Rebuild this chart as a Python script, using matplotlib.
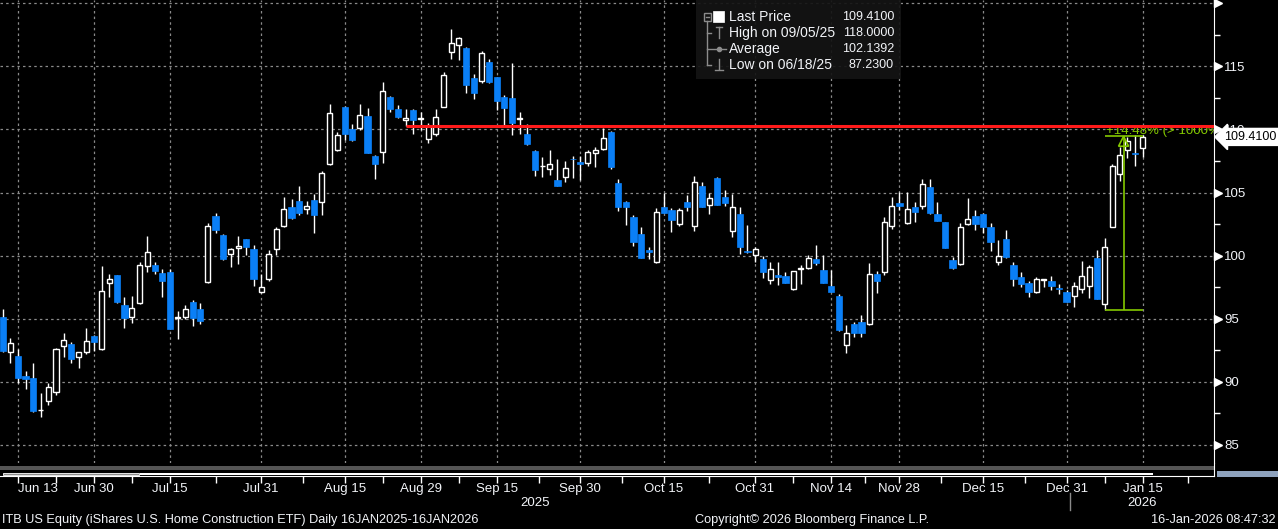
import numpy as np
import pandas as pd
import matplotlib
matplotlib.use("Agg")
import matplotlib.pyplot as plt
from matplotlib import transforms
from matplotlib.lines import Line2D
from matplotlib.patches import Rectangle, Polygon

plt.rcParams['font.family'] = ['Liberation Sans', 'DejaVu Sans']

# ---- data (ITB daily, visible window) ----
start_date = "2025-06-11"
end_date = "2026-01-15"
market_holidays = ["2025-06-19", "2025-07-04", "2025-09-01",
                   "2025-11-27", "2025-12-25", "2026-01-01"]

opens = [95.13, 92.33, 92.04, 90.45, 90.29, 87.75, 88.52, 89.21, 92.86, 92.99,
         91.98, 92.33, 93.62, 92.62, 97.86, 98.44, 96.08, 95.16, 96.22, 99.21,
         99.23, 98.60, 98.68, 95.08, 95.11, 96.30, 95.74, 97.94, 103.12, 101.61,
         100.11, 100.58, 101.32, 100.50, 97.09, 98.12, 100.50, 102.38, 103.84, 104.31,
         103.68, 104.39, 104.23, 107.25, 108.41, 111.80, 110.03, 110.08, 111.08, 107.91,
         108.25, 112.59, 111.64, 110.74, 111.56, 110.82, 109.23, 109.68, 111.77, 116.14,
         116.69, 116.46, 114.07, 113.84, 115.34, 114.15, 112.57, 112.49, 110.83, 109.66,
         108.31, 107.08, 106.85, 106.01, 106.22, 107.67, 107.41, 107.33, 108.17, 108.44,
         109.81, 105.77, 104.26, 103.07, 101.72, 100.45, 99.52, 103.84, 103.62, 102.51,
         104.26, 102.38, 105.53, 104.02, 106.16, 104.66, 101.96, 103.31, 100.34, 100.05,
         99.74, 98.07, 98.44, 98.39, 97.33, 98.96, 98.99, 99.74, 98.86, 97.59,
         96.80, 92.91, 94.58, 94.74, 94.55, 98.52, 98.73, 102.38, 104.18, 102.57,
         103.84, 103.92, 105.42, 103.28, 102.65, 99.63, 99.37, 102.49, 103.15, 103.31,
         102.25, 99.52, 101.32, 99.26, 98.28, 97.80, 97.09, 98.10, 97.99, 97.43,
         97.12, 96.77, 97.33, 97.59, 99.81, 96.14, 102.30, 106.48, 108.39, 108.12,
         108.52]
highs = [95.77, 93.44, 92.59, 90.85, 91.48, 89.15, 89.87, 92.70, 93.89, 93.15,
         92.38, 94.26, 93.68, 99.18, 98.54, 98.48, 96.72, 96.80, 99.50, 101.56,
         99.50, 98.97, 98.97, 95.61, 96.08, 96.48, 96.22, 102.59, 103.39, 101.69,
         100.61, 101.56, 101.35, 100.85, 98.54, 100.42, 102.28, 104.66, 104.50, 105.53,
         104.34, 104.89, 106.72, 112.01, 109.79, 111.85, 110.45, 112.04, 111.72, 107.95,
         113.78, 112.67, 111.96, 111.64, 111.60, 111.35, 110.50, 111.64, 114.58, 118.00,
         117.30, 116.53, 114.39, 116.19, 115.58, 114.18, 112.75, 115.26, 111.38, 110.45,
         108.35, 107.80, 108.39, 107.67, 107.51, 107.91, 107.86, 108.36, 108.65, 110.11,
         109.85, 106.08, 104.30, 103.23, 102.28, 100.71, 103.76, 104.95, 103.76, 103.76,
         104.81, 106.32, 105.87, 105.00, 106.20, 105.21, 104.87, 103.89, 102.43, 100.71,
         100.00, 99.50, 99.50, 98.70, 98.80, 99.23, 100.05, 100.82, 100.03, 98.86,
         96.93, 94.50, 94.74, 95.32, 99.39, 98.78, 103.04, 104.68, 105.08, 105.08,
         104.29, 106.08, 106.06, 104.29, 102.68, 99.92, 102.57, 104.55, 103.62, 103.41,
         102.57, 101.24, 102.04, 99.52, 98.73, 98.02, 98.28, 98.15, 98.39, 97.75,
         97.28, 97.94, 99.58, 99.26, 100.45, 101.38, 107.25, 108.65, 109.44, 109.58,
         109.58]
lows = [92.38, 91.46, 89.87, 89.47, 87.62, 87.23, 88.15, 88.94, 91.98, 91.48,
        91.11, 92.20, 92.43, 92.55, 96.75, 96.27, 94.29, 94.68, 96.20, 98.73,
        98.54, 96.75, 94.18, 93.41, 94.95, 94.44, 94.58, 97.86, 101.77, 99.66,
        99.13, 99.34, 100.05, 97.59, 97.05, 98.02, 100.05, 102.25, 102.91, 103.23,
        103.33, 101.83, 103.23, 107.20, 108.30, 109.18, 109.10, 109.97, 108.15, 106.11,
        107.38, 111.35, 110.87, 110.29, 109.68, 109.97, 108.89, 109.50, 111.75, 115.56,
        115.48, 112.86, 112.41, 113.68, 113.65, 111.51, 110.37, 109.60, 109.68, 108.73,
        106.35, 106.27, 106.43, 105.54, 105.87, 106.19, 106.00, 107.14, 107.06, 108.40,
        106.90, 103.57, 102.43, 100.77, 99.80, 99.76, 99.39, 103.36, 101.90, 102.35,
        103.57, 101.98, 103.85, 103.33, 104.02, 103.97, 101.51, 100.13, 100.20, 99.52,
        98.23, 97.75, 97.65, 97.82, 97.30, 97.75, 98.92, 99.26, 97.82, 97.10,
        94.02, 92.30, 93.52, 93.52, 94.50, 97.06, 98.47, 102.09, 103.62, 102.50,
        102.70, 103.68, 103.31, 102.75, 100.58, 98.97, 99.29, 102.43, 102.04, 101.77,
        100.40, 99.26, 99.85, 97.62, 97.49, 96.75, 97.05, 97.49, 97.28, 96.96,
        96.30, 95.95, 97.06, 96.61, 96.55, 95.69, 102.25, 105.93, 107.72, 107.14,
        107.80]
closes = [92.46, 93.04, 90.32, 90.24, 87.70, 87.80, 89.63, 92.59, 93.28, 91.83,
          92.35, 93.23, 93.17, 97.17, 98.12, 96.32, 95.08, 95.82, 99.23, 100.26,
          98.81, 98.02, 94.21, 95.10, 95.74, 95.08, 94.84, 102.33, 102.06, 99.76,
          100.50, 100.74, 100.71, 98.17, 97.49, 100.11, 102.09, 103.68, 103.02, 103.36,
          103.92, 103.25, 106.53, 111.30, 109.58, 109.68, 109.13, 111.14, 108.17, 107.30,
          113.07, 111.59, 110.95, 110.93, 110.79, 110.85, 110.24, 110.98, 114.31, 116.85,
          117.25, 113.52, 112.86, 116.06, 113.76, 112.22, 111.67, 110.48, 110.86, 108.86,
          106.75, 107.10, 107.25, 105.56, 106.98, 107.63, 107.30, 108.20, 108.39, 109.31,
          107.06, 103.84, 103.84, 101.11, 99.84, 100.26, 103.44, 103.41, 102.83, 103.60,
          103.89, 105.82, 103.89, 104.55, 104.05, 104.21, 103.84, 100.71, 100.26, 100.53,
          98.73, 98.92, 98.33, 97.86, 98.76, 98.99, 99.79, 99.39, 97.86, 97.12,
          94.10, 93.84, 93.84, 93.84, 98.52, 98.02, 102.65, 103.97, 103.97, 103.68,
          103.49, 105.66, 103.41, 102.78, 100.63, 99.05, 102.25, 102.88, 102.51, 102.30,
          101.11, 99.97, 99.87, 98.15, 97.75, 97.12, 98.12, 98.13, 97.62, 97.33,
          96.35, 97.59, 98.39, 99.13, 96.59, 100.71, 107.12, 107.96, 109.05, 108.04,
          109.41]

tick_dates = ["2025-06-13", "2025-06-30", "2025-07-15", "2025-07-31", "2025-08-15",
              "2025-08-29", "2025-09-15", "2025-09-30", "2025-10-15", "2025-10-31",
              "2025-11-14", "2025-11-28", "2025-12-15", "2025-12-31", "2026-01-15"]
tick_labels = ["Jun 13", "Jun 30", "Jul 15", "Jul 31", "Aug 15", "Aug 29", "Sep 15",
               "Sep 30", "Oct 15", "Oct 31", "Nov 14", "Nov 28", "Dec 15", "Dec 31", "Jan 15"]
y_ticks = [85, 90, 95, 100, 105, 110, 115, 120]
y_labels = ["85", "90", "95", "100", "105", "110", "115", ""]

last_price = 109.41
stat_names = ["Last Price", "High on 09/05/25", "Average", "Low on 06/18/25"]
stat_values = ["109.4100", "118.0000", "102.1392", "87.2300"]

resistance_level = 110.25
resistance_from = "2025-08-27"

move_from, move_to = "2026-01-08", "2026-01-15"
move_low, move_high = 95.69, 109.46
move_text = "+14.48% (> 1000%)"

# ---- styling ----
BLUE = '#0a7ff6'
GREEN = '#84c800'
RED = '#ff1a1a'
GRID = '#8a8a8a'
ICON = '#8c8c8c'
TXT = '#f2f4f8'

W, H = 1278, 529
def fx(px):
    return px / W
def fy(py):
    return 1 - py / H

dates = pd.bdate_range(start_date, end_date, freq='C', holidays=market_holidays)
def idx(d):
    return dates.get_loc(pd.Timestamp(d))

fig = plt.figure(figsize=(W / 100, H / 100), dpi=100, facecolor='black')
ax = fig.add_axes([0, fy(463), fx(1214), fy(0) - fy(463)], facecolor='black')
ax2 = fig.add_axes([0, fy(476), fx(1214), fy(463) - fy(476)], facecolor='black', sharex=ax)

x = np.arange(len(dates))
o, h, l, c = (np.array(v) for v in (opens, highs, lows, closes))
up = c >= o
body = np.maximum(np.abs(c - o), 0.05)
bottom = np.minimum(o, c)

ax.vlines(x, l, h, color='white', lw=1, zorder=2)
ax.bar(x[up], body[up], bottom=bottom[up], width=0.66, facecolor='black',
       edgecolor='white', lw=1, zorder=3)
ax.bar(x[~up], body[~up], bottom=bottom[~up], width=0.82, facecolor=BLUE,
       edgecolor=BLUE, lw=0.5, zorder=3)

ax.set_xlim(-0.37, 159.4)
ax.set_ylim(83.57, 120.26)

# y axis on the right, Bloomberg style
ax.yaxis.tick_right()
ax.set_yticks(y_ticks)
ax.set_yticklabels(y_labels)
ax.set_yticks(np.arange(87.5, 120, 5), minor=True)
ax.tick_params(axis='y', which='major', length=0, pad=7.5, labelcolor=TXT, labelsize=9.5)
ax.tick_params(axis='y', which='minor', length=4, width=1, color='white', direction='out')
ax.tick_params(axis='x', which='both', length=0, labelbottom=False)
for side in ['top', 'left', 'bottom']:
    ax.spines[side].set_visible(False)
ax.spines['right'].set_color('white')
ax.grid(True, which='major', color=GRID, ls=(0, (2, 2.5)), lw=0.9)
ax.set_axisbelow(True)

tri_tr = transforms.offset_copy(
    transforms.blended_transform_factory(ax.transAxes, ax.transData),
    fig=fig, x=4, y=0, units='dots')
ax.plot(np.ones(len(y_ticks)), y_ticks, ls='none', marker='>', ms=6, color='white',
        transform=tri_tr, clip_on=False, zorder=5)

# x axis in the navigator strip
tick_pos = [idx(d) for d in tick_dates]
ax2.set_xticks(tick_pos)
ax2.set_xticklabels(tick_labels)
minor_pos = [(a + b) / 2 for a, b in zip(tick_pos[:-1], tick_pos[1:])] + [tick_pos[-1] + 6]
ax2.set_xticks(minor_pos, minor=True)
ax2.tick_params(axis='x', which='both', length=5, width=1, color='white', direction='out',
                pad=0, labelcolor=TXT, labelsize=9.5)
ax2.get_xticklabels()[0].set_ha('left')
ax2.set_ylim(0, 1)
ax2.set_yticks([])
for side in ['top', 'left']:
    ax2.spines[side].set_visible(False)
ax2.spines['bottom'].set_color('white')
ax2.spines['right'].set_color('white')
ax2.axhspan(0.46, 0.77, color='#555555', lw=0)
ax2.add_patch(Rectangle((0.0025, 0.04), 0.112, 0.2, transform=ax2.transAxes,
                        fc='#8c8c8c', ec='white', lw=0.6))
ax2.add_patch(Rectangle((0.1153, 0.04), 0.95 - 0.1153, 0.2, transform=ax2.transAxes,
                        fc='white', ec='none'))
fig.patches.append(Rectangle((fx(1217), fy(477)), fx(61), 6 / H, transform=fig.transFigure,
                             fc='#8ea2bd', ec='none'))

# year labels and separator
yr_tr = transforms.blended_transform_factory(ax2.transData, fig.transFigure)
sep = idx("2025-12-31") + 0.5
x0, x1 = ax.get_xlim()
ax2.text((x0 + sep) / 2, fy(503), "2025", transform=yr_tr, ha='center', va='center',
         color=TXT, fontsize=9.5)
ax2.text((sep + x1) / 2, fy(503), "2026", transform=yr_tr, ha='center', va='center',
         color=TXT, fontsize=9.5)
ax2.add_line(Line2D([sep, sep], [fy(493), fy(510)], transform=yr_tr, color='#8a8a8a',
                    lw=1, clip_on=False))

# resistance line
ax.hlines(resistance_level, idx(resistance_from), x1, color=RED, lw=2.2, zorder=6)

# measured move annotation
g0, g1 = idx(move_from), idx(move_to)
gm = (g0 + g1) / 2
ax.hlines([move_low, move_high], g0, g1, color=GREEN, lw=1.2, zorder=4)
ax.vlines(gm, move_low, move_high, color=GREEN, lw=1.2, zorder=4)
ax.add_patch(Polygon([[gm - 0.66, move_high - 0.79], [gm, move_high],
                      [gm + 0.66, move_high - 0.79]], closed=True, fill=False,
                     ec=GREEN, lw=1.2, zorder=4))
ax.text(g0 + 0.25, move_high + 0.18, move_text, color=GREEN, fontsize=9.5,
        ha='left', va='baseline', clip_on=True, zorder=4)

# last price tag
ax.annotate(f"{last_price:.4f}", xy=(1.0, last_price),
            xycoords=transforms.blended_transform_factory(ax.transAxes, ax.transData),
            xytext=(10, 0), textcoords='offset pixels', ha='left', va='center',
            fontsize=9, color='black', annotation_clip=False, zorder=8,
            bbox=dict(boxstyle='larrow,pad=0.2', fc='white', ec='white'))

# stats box (top)
fig.patches.append(Rectangle((fx(696), fy(79)), fx(205), 79 / H, transform=fig.transFigure,
                             fc='#141414', ec='none', alpha=0.92))
rows = [17, 33, 49, 65]
for ry, name, val in zip(rows, stat_names, stat_values):
    fig.text(fx(729), fy(ry), name, ha='left', va='center', color=TXT, fontsize=10)
    fig.text(fx(894), fy(ry), val, ha='right', va='center', color=TXT, fontsize=9)

def seg(xa, ya, xb, yb, color=ICON):
    fig.add_artist(Line2D([fx(xa), fx(xb)], [fy(ya), fy(yb)], transform=fig.transFigure,
                          color=color, lw=1))

fig.patches.append(Rectangle((fx(703.5), fy(20.5)), fx(7), 7 / H, transform=fig.transFigure,
                             fill=False, ec=ICON, lw=1))
seg(705.5, 17, 709, 17)
seg(707, 20.5, 707, 65)
seg(707, 33, 711, 33)
seg(707, 49, 726, 49)
seg(707, 65, 711, 65)
fig.patches.append(Rectangle((fx(713), fy(22)), fx(11), 11 / H, transform=fig.transFigure,
                             fc='white', ec='white', lw=0.5))
seg(719, 27, 719, 38)
seg(716, 27, 722, 27)
fig.add_artist(Line2D([fx(719)], [fy(49)], transform=fig.transFigure, marker='o', ms=3,
                      color=ICON))
seg(719, 59, 719, 69)
seg(715, 69.5, 723, 69.5)

# footer
fig.text(fx(2), fy(520), "ITB US Equity (iShares U.S. Home Construction ETF) Daily 16JAN2025-16JAN2026",
         ha='left', va='center', color=TXT, fontsize=9.2)
fig.text(fx(812), fy(520), "Copyright\u00a9 2026 Bloomberg Finance L.P.",
         ha='center', va='center', color=TXT, fontsize=9.2)
fig.text(fx(1276), fy(520), "16-Jan-2026 08:47:32", ha='right', va='center',
         color=TXT, fontsize=9.2)

fig.savefig("out.png", dpi=100, facecolor='black')
